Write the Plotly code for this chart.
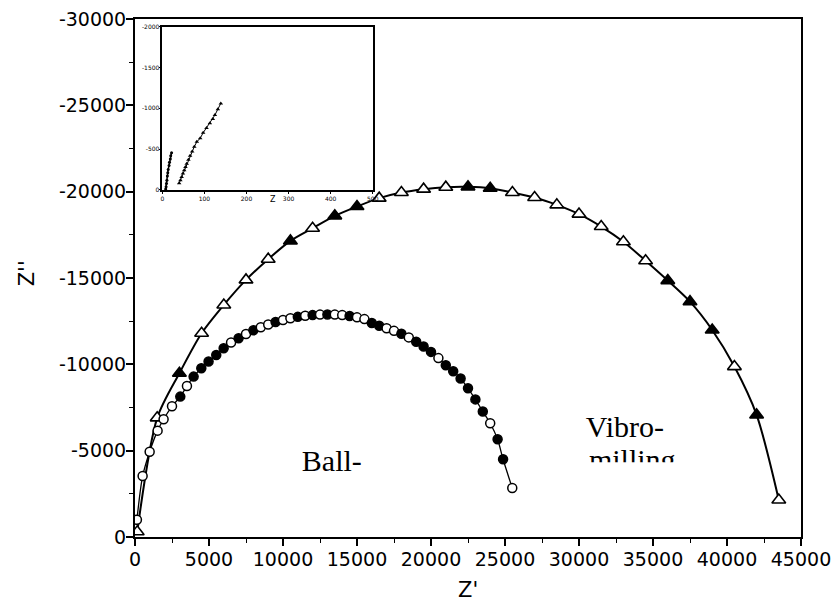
import plotly.graph_objects as go

# ---------------- data ----------------
# Vibro-milling (triangles), Z' and Z''
vibro_x = [150, 1500, 3000, 4500, 6000, 7500, 9000, 10500, 12000, 13500, 15000, 16500,
           18000, 19500, 21000, 22500, 24000, 25500, 27000, 28500, 30000, 31500,
           33000, 34500, 36000, 37500, 39000, 40500, 42000, 43500]
vibro_y = [-300, -6900, -9485, -11800, -13440, -14890, -16090, -17150, -17885, -18600,
           -19140, -19625, -19950, -20145, -20260, -20280, -20200, -19950, -19660,
           -19235, -18700, -17980, -17100, -16000, -14850, -13630, -11990, -9870,
           -7070, -2144]
vibro_open = [1, 1, 0, 1, 1, 1, 1, 0, 1, 0, 0, 1, 1, 1, 1, 0, 0, 1, 1, 1, 1, 1,
              1, 1, 0, 0, 0, 1, 0, 1]

# Ball-milling (circles)
ball_x = [130, 515, 990, 1527, 1932, 2500, 3060, 3510, 3960, 4480, 4970, 5490, 5990,
          6490, 7000, 7500, 8000, 8500, 9000, 9500, 10000, 10500, 11000, 11500, 12000,
          12500, 13000, 13500, 14000, 14500, 15000, 15500, 16000, 16500, 17000, 17500,
          18000, 18500, 19000, 19500, 20000, 20500, 21000, 21500, 22000, 22500, 23000,
          23500, 24000, 24500, 24870, 25490]
ball_y = [-1000, -3530, -4940, -6160, -6820, -7570, -8130, -8750, -9290, -9770, -10160,
          -10540, -10930, -11260, -11510, -11760, -11970, -12150, -12310, -12450, -12570,
          -12670, -12750, -12810, -12850, -12880, -12890, -12880, -12850, -12800, -12720,
          -12620, -12390, -12230, -12090, -11940, -11770, -11560, -11310, -11030, -10720,
          -10360, -9950, -9600, -9180, -8610, -7970, -7270, -6590, -5660, -4500, -2840]
ball_open = [1, 1, 1, 1, 1, 1, 0, 1, 0, 0, 0, 0, 0, 1, 0, 1, 0, 1, 1, 0, 1, 1, 0, 1, 0,
             1, 0, 1, 1, 0, 1, 1, 0, 0, 1, 1, 0, 1, 0, 0, 0, 1, 0, 0, 0, 0, 0, 0, 1, 0, 0, 1]

# Inset data (high-frequency region)
inset_ball_x = [8, 9, 10, 11, 12, 13, 14, 16, 17, 19, 20, 22]
inset_ball_y = [-10, -40, -80, -120, -170, -210, -250, -300, -340, -380, -420, -457]
inset_vibro_x = [40, 43, 46, 49, 52, 55, 58, 62, 66, 71, 76, 82, 90, 97, 105, 113, 120, 125, 132, 139]
inset_vibro_y = [-82, -120, -160, -200, -240, -280, -320, -370, -420, -470, -530, -590, -633,
                 -700, -760, -816, -870, -918, -990, -1061]

main_xticks = [0, 5000, 10000, 15000, 20000, 25000, 30000, 35000, 40000, 45000]
main_yticks = [0, -5000, -10000, -15000, -20000, -25000, -30000]
inset_xticks = [0, 100, 200, 300, 400, 500]
inset_yticks = [0, -500, -1000, -1500, -2000]

labels = ["Ball-", "Vibro-", "milling"]
label_x = [13300, 33100, 33600]
label_y = [-4250, -6250, -4300]


def neg(v):
    return str(v).replace("\u2212", "-")


fig = go.Figure()

fig.add_trace(go.Scatter(
    x=vibro_x, y=vibro_y, mode="lines+markers",
    line=dict(color="black", width=2, shape="spline", smoothing=0.8),
    marker=dict(symbol="triangle-up", size=12,
                color=["white" if o else "black" for o in vibro_open],
                line=dict(color="black", width=1.6)),
    showlegend=False, xaxis="x", yaxis="y"))

fig.add_trace(go.Scatter(
    x=ball_x, y=ball_y, mode="lines+markers",
    line=dict(color="black", width=1.3, shape="spline", smoothing=0.8),
    marker=dict(symbol="circle", size=9,
                color=["white" if o else "black" for o in ball_open],
                line=dict(color="black", width=1.5)),
    showlegend=False, xaxis="x", yaxis="y"))

fig.add_trace(go.Scatter(
    x=label_x, y=label_y, mode="text", text=labels,
    textfont=dict(family="Liberation Serif", size=30, color="black"),
    showlegend=False, xaxis="x", yaxis="y", hoverinfo="skip"))

# inset traces
fig.add_trace(go.Scatter(
    x=inset_ball_x, y=inset_ball_y, mode="lines+markers",
    line=dict(color="black", width=1.5),
    marker=dict(symbol="circle", size=3, color="black"),
    showlegend=False, xaxis="x2", yaxis="y2"))
fig.add_trace(go.Scatter(
    x=inset_vibro_x, y=inset_vibro_y, mode="lines+markers",
    line=dict(color="black", width=1),
    marker=dict(symbol="triangle-up", size=4, color="black"),
    showlegend=False, xaxis="x2", yaxis="y2"))

axis_font = dict(family="DejaVu Sans", size=19, color="black")
inset_font = dict(family="DejaVu Sans", size=6, color="black")

fig.update_layout(
    width=831, height=613,
    margin=dict(l=135, r=30, t=19, b=76, autoexpand=False),
    paper_bgcolor="white", plot_bgcolor="white",
    xaxis=dict(range=[0, 45000], tickvals=main_xticks,
               ticktext=[neg(v) for v in main_xticks],
               ticks="outside", ticklen=7, tickwidth=1.5, tickcolor="black",
               minor=dict(dtick=2500, ticks="outside", ticklen=4, tickcolor="black", tickwidth=1.2),
               showline=True, linewidth=2, linecolor="black", mirror=True,
               showgrid=False, zeroline=False, tickfont=axis_font, automargin=False,
               ticklabeloverflow="allow", ticklabelstandoff=-3),
    yaxis=dict(range=[0, -30000], tickvals=main_yticks,
               ticktext=[neg(v) for v in main_yticks],
               ticks="outside", ticklen=7, tickwidth=1.5, tickcolor="black",
               minor=dict(dtick=2500, ticks="outside", ticklen=4, tickcolor="black", tickwidth=1.2),
               showline=True, linewidth=2, linecolor="black", mirror=True,
               showgrid=False, zeroline=False, tickfont=axis_font, automargin=False,
               ticklabeloverflow="allow", ticklabelstandoff=-4),
    xaxis2=dict(domain=[0.041, 0.357], anchor="y2", range=[0, 500], tickvals=inset_xticks,
                ticktext=[neg(v) for v in inset_xticks],
                ticks="outside", ticklen=2, tickcolor="black",
                showline=True, linewidth=1.5, linecolor="black", mirror=True,
                showgrid=False, zeroline=False, automargin=False,
                ticklabeloverflow="allow", tickfont=inset_font),
    yaxis2=dict(domain=[0.670, 0.985], anchor="x2", range=[0, -2000], tickvals=inset_yticks,
                ticktext=[neg(v) for v in inset_yticks],
                ticks="outside", ticklen=2, tickcolor="black",
                showline=True, linewidth=1.5, linecolor="black", mirror=True,
                showgrid=False, zeroline=False, automargin=False,
                ticklabeloverflow="allow", ticklabelstandoff=-2, tickfont=inset_font),
    shapes=[
        dict(type="rect", xref="paper", yref="paper", x0=0.041, x1=0.357, y0=0.670, y1=0.985,
             fillcolor="white", line=dict(width=0), layer="below"),
        dict(type="rect", xref="x", yref="y", x0=30500, x1=37000, y0=-4330, y1=-2500,
             fillcolor="white", line=dict(width=0), layer="above"),
    ],
    annotations=[
        dict(text="Z'", xref="paper", yref="paper", x=0.5, y=-0.103, yanchor="middle",
             showarrow=False, font=dict(family="DejaVu Sans", size=21, color="black")),
        dict(text="Z''", xref="paper", yref="paper", x=-0.184, y=0.51, textangle=-90,
             showarrow=False, font=dict(family="DejaVu Sans", size=21, color="black")),
        dict(text="Z", xref="paper", yref="paper", x=0.2, y=0.652,
             showarrow=False, font=dict(family="DejaVu Sans", size=8, color="black")),
    ],
)

fig.write_html("out.html")
